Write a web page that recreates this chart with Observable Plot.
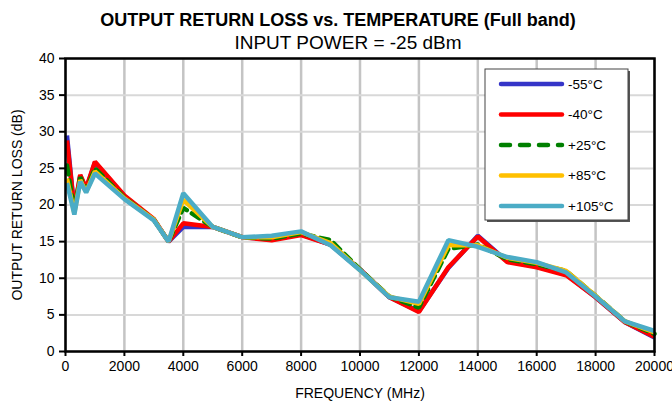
<!DOCTYPE html>
<html>
<head>
<meta charset="utf-8">
<script src="https://cdn.jsdelivr.net/npm/d3@7"></script>
<script src="https://cdn.jsdelivr.net/npm/@observablehq/plot@0.6"></script>
<style>
  body { margin: 0; background: #fff; }
  #chart svg { font-family: "Liberation Sans", Arial, sans-serif; }
</style>
</head>
<body>
<div id="chart"></div>
<script>
const freqs = [50, 300, 500, 700, 1000, 2000, 3000, 3500, 4000, 5000, 6000, 7000, 8000, 9000, 10000, 11000, 12000, 13000, 14000, 15000, 16000, 17000, 18000, 19000, 20000];
const seriesNames = ["-55°C", "-40°C", "+25°C", "+85°C", "+105°C"];
const rlM55  = [29.5, 19.3, 24.0, 22.2, 25.8, 21.2, 18.0, 15.0, 17.0, 17.0, 15.6, 15.3, 16.0, 14.6, 11.2, 7.4, 5.5, 11.4, 15.8, 12.3, 11.6, 10.5, 7.4, 4.0, 1.9];
const rlM40  = [28.8, 19.4, 24.1, 22.3, 25.9, 21.3, 18.1, 15.0, 17.5, 17.0, 15.6, 15.2, 15.9, 14.6, 11.2, 7.4, 5.4, 11.5, 15.7, 12.2, 11.5, 10.4, 7.4, 4.0, 2.0];
const rlP25  = [25.4, 19.2, 23.8, 22.0, 25.0, 21.0, 18.0, 15.0, 19.6, 17.0, 15.6, 15.4, 16.1, 15.2, 11.2, 7.5, 6.0, 14.0, 14.6, 12.6, 11.9, 11.0, 7.6, 4.1, 2.4];
const rlP85  = [23.6, 18.9, 23.4, 21.8, 24.6, 20.9, 18.0, 15.0, 20.7, 17.0, 15.6, 15.6, 16.3, 14.8, 11.1, 7.5, 6.5, 14.5, 14.5, 12.8, 12.1, 11.0, 7.6, 4.1, 2.6];
const rlP105 = [23.0, 18.7, 23.2, 21.7, 24.3, 20.8, 17.9, 15.0, 21.6, 17.0, 15.6, 15.8, 16.4, 14.5, 11.1, 7.4, 6.8, 15.2, 14.3, 12.9, 12.2, 10.8, 7.5, 4.1, 2.8];
const xTicks = [0, 2000, 4000, 6000, 8000, 10000, 12000, 14000, 16000, 18000, 20000];
const yTicks = [0, 5, 10, 15, 20, 25, 30, 35, 40];

const allValues = [rlM55, rlM40, rlP25, rlP85, rlP105];
const colors = ["#3535c8", "#ff0000", "#008000", "#ffc000", "#4bacc6"];
const dashes = [null, null, "9,6", null, null];
const widths = [4.5, 4.5, 4.5, 4.5, 4.5];

const series = seriesNames.map((name, i) => ({
  name, color: colors[i], dash: dashes[i], width: widths[i],
  data: freqs.map((f, j) => ({f, v: allValues[i][j]}))
}));

const W = 672, H = 402;
const plot = Plot.plot({
  width: W, height: H,
  marginLeft: 65, marginRight: 18, marginTop: 58, marginBottom: 51,
  style: {fontFamily: "Liberation Sans, Arial, sans-serif", fontSize: "14px", background: "#fff", overflow: "visible"},
  x: {domain: [0, 20000], ticks: xTicks, tickFormat: d => String(d), label: null},
  y: {domain: [0, 40], ticks: yTicks, label: null},
  marks: [
    Plot.gridX(xTicks, {stroke: "#c4c4c4", strokeWidth: 2.5, strokeOpacity: 1}),
    Plot.gridY(yTicks, {stroke: "#d8d8d8", strokeWidth: 2, strokeOpacity: 1}),
    ...series.map(s => Plot.line(s.data, {
      x: "f", y: "v", stroke: s.color, strokeWidth: s.width,
      strokeDasharray: s.dash, strokeLinejoin: "miter", strokeLinecap: s.dash ? "round" : "butt"
    })),
    Plot.frame({stroke: "#000", strokeWidth: 2.5}),
    Plot.axisX({ticks: xTicks, tickSize: 5, tickPadding: 5, stroke: "#000", strokeWidth: 2, fontSize: 14, fill: "#000", label: null, tickFormat: d => String(d)}),
    Plot.axisY({ticks: yTicks, tickSize: 6, tickPadding: 5, stroke: "#000", strokeWidth: 2, fontSize: 14, fill: "#000", label: null}),
    Plot.text(["OUTPUT RETURN LOSS vs. TEMPERATURE (Full band)"], {frameAnchor: "top", textAnchor: "middle", lineAnchor: "middle", dx: -22, dy: -38, fontSize: 18, fontWeight: "bold", fill: "#000"}),
    Plot.text(["INPUT POWER = -25 dBm"], {frameAnchor: "top", textAnchor: "middle", lineAnchor: "middle", dx: -12, dy: -16, fontSize: 19, fill: "#000"}),
    Plot.text(["FREQUENCY (MHz)"], {frameAnchor: "bottom", textAnchor: "middle", lineAnchor: "middle", dy: 42, fontSize: 14, fill: "#000"}),
    Plot.text(["OUTPUT RETURN LOSS (dB)"], {frameAnchor: "left", textAnchor: "middle", lineAnchor: "middle", dx: -48, rotate: -90, fontSize: 14, fill: "#000"})
  ]
});
document.getElementById("chart").appendChild(plot);

// Legend
const svg = d3.select(plot);
const lg = svg.append("g");
const bx = 485, by = 69, bw = 143, bh = 151;
lg.append("rect").attr("x", bx + 2).attr("y", by + 2).attr("width", bw).attr("height", bh).attr("fill", "#555");
lg.append("rect").attr("x", bx).attr("y", by).attr("width", bw).attr("height", bh).attr("fill", "#fff").attr("stroke", "#444").attr("stroke-width", 1);
series.forEach((s, i) => {
  const yy = by + 15 + i * 30.5;
  lg.append("line").attr("x1", 501).attr("x2", 562).attr("y1", yy).attr("y2", yy)
    .attr("stroke", s.color).attr("stroke-width", 4.5).attr("stroke-linecap", "round")
    .attr("stroke-dasharray", s.dash ? "9,10" : null);
  lg.append("text").attr("x", 568).attr("y", yy).attr("dy", "0.35em")
    .attr("text-anchor", "start")
    .attr("font-size", 13.5).attr("fill", "#000").text(s.name);
});
</script>
</body>
</html>
